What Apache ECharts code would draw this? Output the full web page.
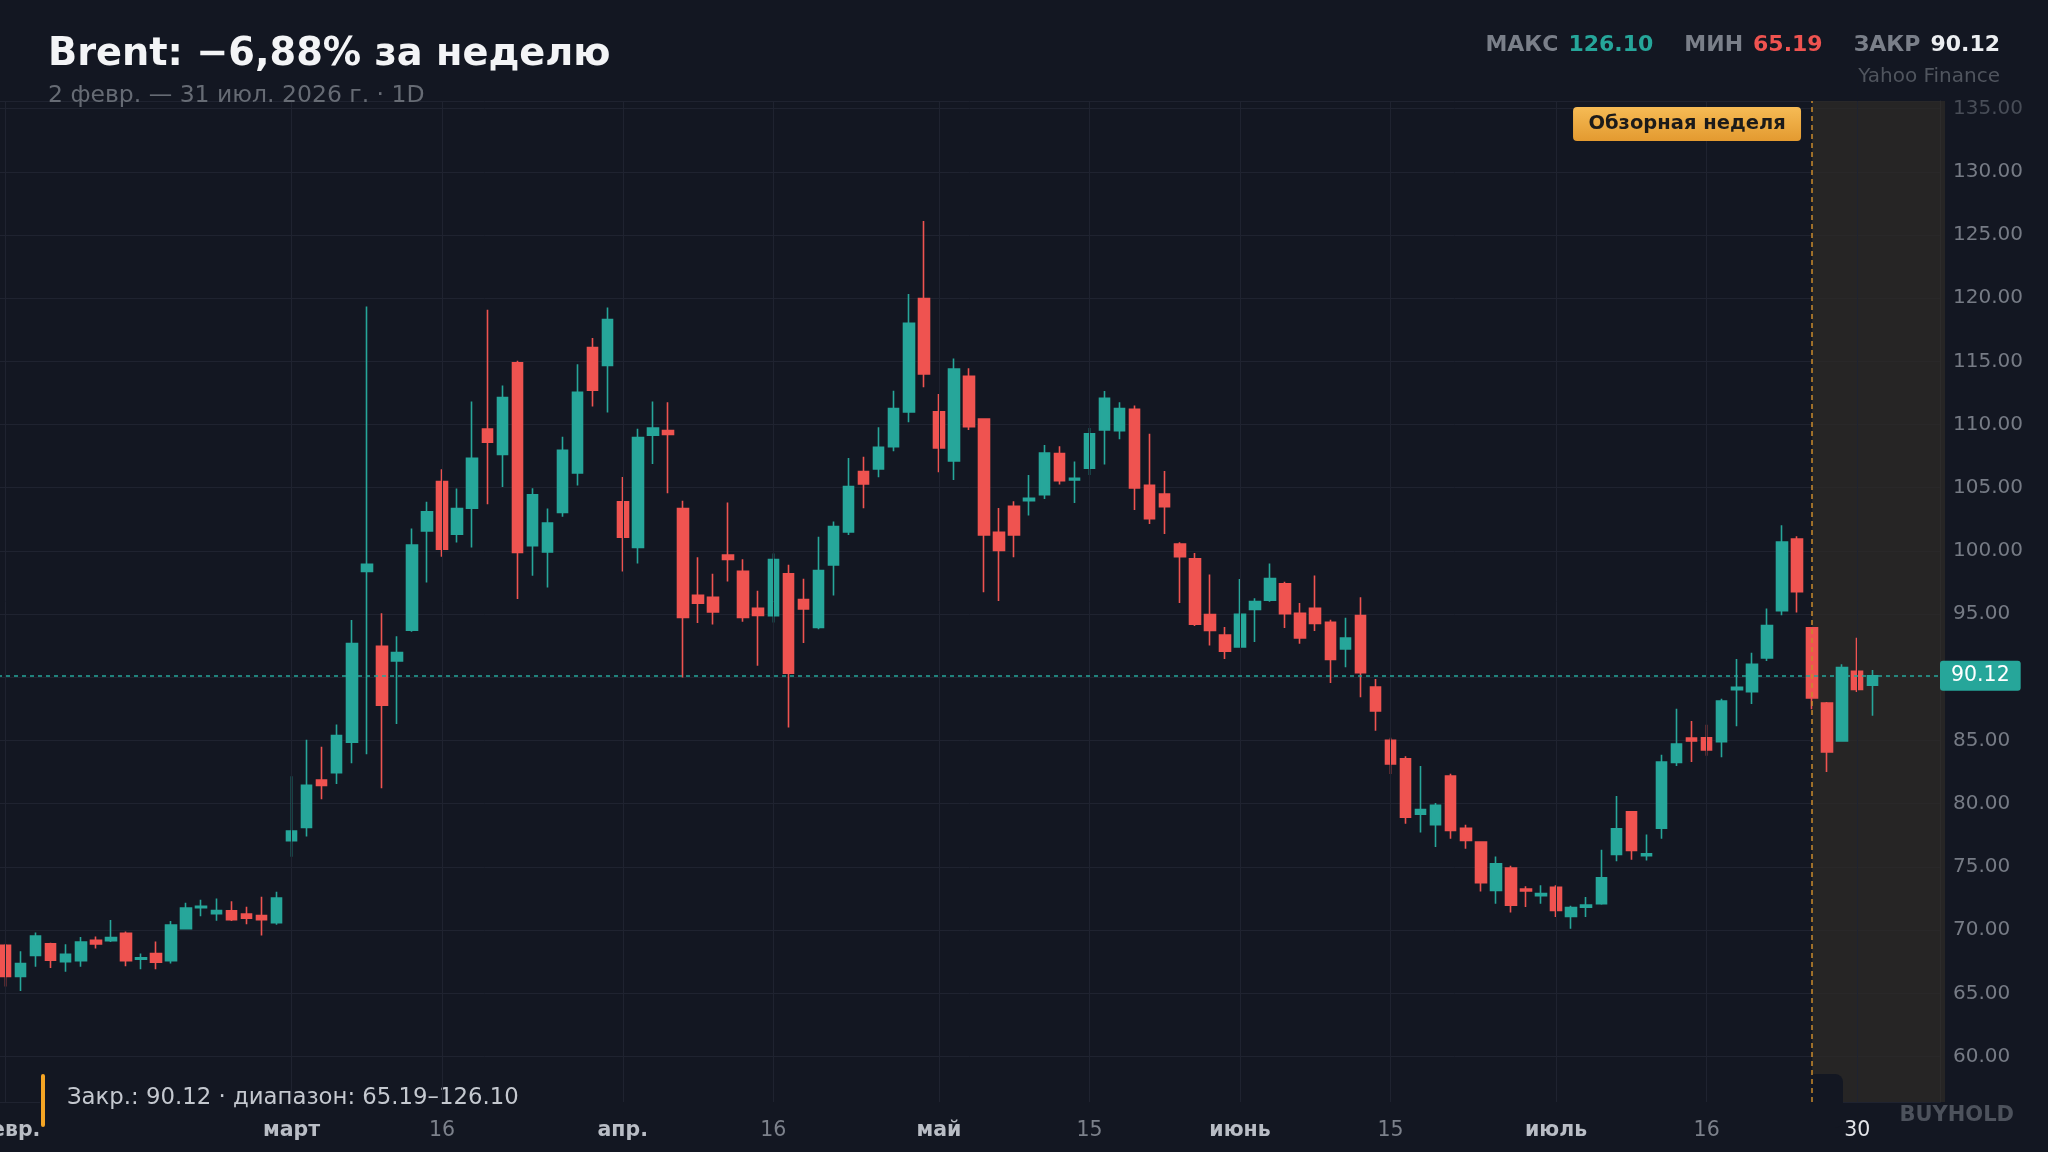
<!DOCTYPE html>
<html>
<head>
<meta charset="utf-8">
<script src="https://cdn.jsdelivr.net/npm/echarts@6/dist/echarts.min.js"></script>
<style>
html,body{margin:0;padding:0;background:#131722;}
#c{width:2048px;height:1152px;}
</style>
</head>
<body>
<div id="c"></div>
<script>
// Trading days (2026), per month
const febDays = [2,3,4,5,6,9,10,11,12,13,17,18,19,20,23,24,25,26,27];
const marDays = [2,3,4,5,6,9,10,11,12,13,16,17,18,19,20,23,24,25,26,27,30,31];
const aprDays = [1,2,6,7,8,9,10,13,14,15,16,17,20,21,22,23,24,27,28,29,30];
const mayDays = [1,4,5,6,7,8,11,12,13,14,15,18,19,20,21,22,26,27,28,29];
const junDays = [1,2,3,4,5,8,9,10,11,12,15,16,17,18,22,23,24,25,26,29,30];
const julDays = [1,2,6,7,8,9,10,13,14,15,16,17,20,21,22,23,24,27,28,29,30,31];
const padCategories = ['', '', '', ''];

// OHLC values (USD/bbl)
const opens = [68.8,66.34,68.0,68.91,67.5,67.57,69.2,69.17,69.75,67.7,68.15,67.57,70.11,71.78,71.3,71.52,71.27,71.16,70.58,
77.07,78.12,81.88,82.46,84.86,98.37,92.46,91.3,93.73,101.59,105.5,101.33,103.39,109.64,107.63,114.88,100.41,99.93,103.04,106.18,116.1,114.67,
103.89,100.27,109.16,109.53,103.36,96.5,96.34,99.67,98.38,95.47,94.87,98.19,96.16,93.95,98.89,101.5,106.28,106.49,108.25,111.0,119.96,
111.0,107.12,113.82,110.44,101.48,103.53,103.98,104.46,107.7,105.62,106.54,109.57,109.52,111.21,105.2,104.51,100.55,99.37,94.96,93.35,
92.4,95.38,96.1,97.41,95.07,95.46,94.35,92.24,94.88,89.23,85.01,83.56,79.18,78.34,82.19,78.05,76.97,73.14,74.91,73.25,72.72,
73.38,71.08,71.82,72.08,75.99,79.37,75.88,78.07,83.27,85.2,85.22,84.91,89.02,88.87,91.53,95.28,100.95,93.91,87.97,84.96,90.47,89.37];
const closes = [66.34,67.36,69.53,67.61,68.08,69.06,68.9,69.42,67.57,67.8,67.46,70.4,71.74,71.88,71.55,70.83,70.94,70.83,72.54,
77.83,81.45,81.45,85.4,92.68,98.95,87.79,91.96,100.47,103.1,100.14,103.36,107.34,108.61,112.14,99.88,104.44,102.2,107.97,112.56,112.72,118.31,
101.09,108.98,109.72,109.21,94.74,95.87,95.18,99.32,94.74,94.9,99.32,90.33,95.42,98.45,101.93,105.1,105.3,108.2,111.26,118.01,114.0,
108.15,114.4,109.84,101.27,100.03,101.27,104.17,107.75,105.56,105.75,109.26,112.08,111.26,104.98,102.56,103.51,99.55,94.2,93.7,92.06,
94.99,95.99,97.81,95.04,93.11,94.27,91.42,93.11,90.37,87.34,83.14,78.94,79.53,79.87,77.89,77.1,73.75,75.25,71.98,73.09,72.9,
71.56,71.79,71.98,74.14,78.02,76.31,76.04,83.3,84.72,84.96,84.25,88.13,89.21,91.03,94.09,100.71,96.78,88.36,84.09,90.77,89.05,90.12];
const lows = [65.54,65.19,67.1,67.0,66.7,67.1,68.55,69.05,67.14,66.9,66.9,67.35,70.1,71.1,70.75,70.72,70.47,69.57,70.43,
75.8,77.4,80.36,81.56,83.2,83.91,81.23,86.3,93.6,97.5,99.54,100.67,100.27,103.7,105.05,96.19,98.03,97.11,102.7,105.18,111.43,110.95,
98.38,99.0,106.87,104.57,89.99,94.29,94.18,97.58,94.39,90.91,94.34,86.03,92.71,93.81,96.47,101.27,103.38,105.83,107.88,110.18,112.95,
106.22,105.62,109.57,96.73,96.04,99.5,102.8,104.11,105.25,103.8,106.01,106.83,108.83,103.24,102.14,101.35,95.89,94.07,92.51,91.45,
92.35,92.8,95.99,93.9,92.66,93.67,89.55,90.79,88.42,85.78,82.35,78.42,77.73,76.57,77.23,76.44,73.06,72.08,71.4,71.82,72.08,
71.03,70.11,71.03,72.0,75.44,75.57,75.51,77.23,82.98,83.3,83.8,83.67,86.12,87.89,91.29,94.91,95.12,87.47,82.51,84.96,88.84,86.97];
const highs = [68.9,68.33,69.82,69.0,68.88,69.46,69.5,70.8,69.9,68.15,69.1,70.73,72.17,72.4,72.5,72.28,71.85,72.64,73.04,
82.17,85.07,84.5,86.27,94.53,119.35,95.07,93.26,101.78,103.89,106.47,104.94,111.82,119.08,113.09,115.04,104.97,103.36,109.03,114.78,116.84,119.26,
105.86,109.66,111.82,111.77,103.97,99.51,98.19,103.83,99.35,96.85,99.8,98.9,97.8,101.12,102.32,107.36,107.46,109.78,112.68,120.33,126.1,
112.42,115.22,114.45,110.5,103.4,103.93,106.01,108.39,108.28,107.07,109.73,112.66,111.76,111.5,109.28,106.33,100.69,99.84,98.13,93.98,
97.78,96.25,99.0,97.57,95.88,98.05,94.56,94.72,96.33,89.87,85.22,83.75,82.98,80.05,82.37,78.34,76.97,75.83,75.09,73.48,73.54,
73.54,71.93,72.61,76.36,80.61,79.37,77.57,83.88,87.52,86.54,86.25,88.31,91.45,91.95,95.44,102.03,101.16,93.91,88.05,91.03,93.14,90.58];

// X-axis tick labels
const tickDates = ['2026-02-02','2026-03-02','2026-03-16','2026-04-01','2026-04-16','2026-05-01','2026-05-15','2026-06-01','2026-06-15','2026-07-01','2026-07-16','2026-07-30'];
const tickTexts = ['февр.','март','16','апр.','16','май','15','июнь','15','июль','16','30'];
const tickKinds = ['m','m','d','m','d','m','d','m','d','m','d','h'];

const reviewWeekStart = '2026-07-27';
const prevWeekClose = '2026-07-24';

// build categories
const monthList = [['02',febDays],['03',marDays],['04',aprDays],['05',mayDays],['06',junDays],['07',julDays]];
const categories = [];
monthList.forEach(([m, days]) => days.forEach(d => categories.push('2026-' + m + '-' + String(d).padStart(2,'0'))));
const axisCategories = categories.concat(padCategories);

const candleData = opens.map((o, i) => [o, closes[i], lows[i], highs[i]]);

const maxHigh = Math.max(...highs);
const minLow = Math.min(...lows);
const lastClose = closes[closes.length - 1];
const prevClose = closes[categories.indexOf(prevWeekClose)];
const weekChange = (lastClose / prevClose - 1) * 100;
const weekChangeText = (weekChange < 0 ? '\u2212' : '+') + Math.abs(weekChange).toFixed(2).replace('.', ',');

const FONT = '"DejaVu Sans", sans-serif';
const UP = '#26a69a', DOWN = '#ef5350', BG = '#131722', GRIDC = '#1f2330';
const Y_MIN = 56.4, Y_MAX = 135.6;
const GRID_RIGHT = 108;

const chart = echarts.init(document.getElementById('c'), null, {renderer: 'canvas'});

chart.setOption({
  backgroundColor: BG,
  animation: false,
  textStyle: {fontFamily: FONT},
  grid: {left: -2, right: GRID_RIGHT, top: 101, bottom: 50, containLabel: false, outerBoundsMode: 'none'},
  xAxis: {
    type: 'category',
    data: axisCategories,
    boundaryGap: true,
    z: 3,
    axisLine: {show: false},
    axisTick: {show: false},
    splitLine: {show: false},
    axisLabel: {
      interval: (idx, val) => tickDates.indexOf(val) >= 0,
      margin: 18,
      formatter: (val) => {
        const i = tickDates.indexOf(val);
        return i < 0 ? '' : '{' + tickKinds[i] + '|' + tickTexts[i] + '}';
      },
      rich: {
        m: {fontSize: 20.5, fontWeight: 'bold', color: '#b9bdc5', fontFamily: FONT},
        d: {fontSize: 20.5, color: '#7c818b', fontFamily: FONT},
        h: {fontSize: 20.5, color: '#e3e5e9', fontFamily: FONT}
      }
    }
  },
  yAxis: {
    type: 'value',
    position: 'right',
    min: Y_MIN,
    max: Y_MAX,
    splitNumber: 16,
    minInterval: 5,
    maxInterval: 5,
    scale: true,
    axisLine: {show: true, lineStyle: {color: '#2c3039', width: 1}},
    axisTick: {show: false},
    splitLine: {show: true, lineStyle: {color: GRIDC, width: 1}},
    axisLabel: {
      showMinLabel: false, showMaxLabel: false,
      margin: 13, fontSize: 20, fontFamily: FONT,
      color: v => (v >= 135 ? '#484d57' : '#767b85'),
      formatter: v => v.toFixed(2)
    }
  },
  series: [
    {
      type: 'line',
      data: [],
      z: 0.5,
      silent: true,
      markLine: {
        silent: true,
        symbol: ['none', 'none'],
        label: {show: false},
        lineStyle: {color: GRIDC, width: 1, type: 'solid'},
        data: tickDates.map(d => ({xAxis: d}))
      }
    },
    {
      type: 'candlestick',
      data: candleData,
      barWidth: 11,
      z: 2,
      itemStyle: {
        color: UP, color0: DOWN, borderColor: UP, borderColor0: DOWN, borderWidth: 1.6
      },
      markLine: {
        silent: true,
        symbol: ['none', 'none'],
        animation: false,
        data: [
          {
            yAxis: lastClose,
            lineStyle: {color: UP, width: 1.5, type: [4, 4]},
            label: {
              show: true, position: 'end', distance: 0,
              formatter: lastClose.toFixed(2),
              backgroundColor: UP, color: '#ffffff', fontSize: 20.5, fontFamily: FONT,
              padding: [5, 11, 4, 11], borderRadius: 3
            }
          },
          {
            xAxis: reviewWeekStart,
            lineStyle: {color: '#c98a2c', width: 1.5, type: [5, 4]},
            label: {show: false}
          }
        ]
      }
    }
  ]
});

// overlay graphics positioned from the library's scales
const xWeek = chart.convertToPixel({xAxisIndex: 0}, reviewWeekStart);
const yTop = chart.convertToPixel({yAxisIndex: 0}, Y_MAX);
const yBot = chart.convertToPixel({yAxisIndex: 0}, Y_MIN);
const gridRight = 2048 - GRID_RIGHT;

chart.setOption({
  graphic: [
    {
      type: 'rect', z: 0.8, silent: true,
      shape: {x: xWeek, y: yTop, width: gridRight + 5 - xWeek, height: yBot - yTop},
      style: {fill: 'rgba(46,43,39,0.72)'}
    },
    {
      type: 'rect', z: 1, silent: true,
      shape: {x: 40, y: 1074, width: 1803, height: 54, r: 8},
      style: {fill: BG}
    },
    {
      type: 'rect', z: 1.1, silent: true,
      shape: {x: 41, y: 1074, width: 4, height: 53, r: 2},
      style: {fill: '#f5a524'}
    },
    {
      type: 'text', z: 1.2, silent: true,
      style: {
        x: 67, y: 1098, text: 'Закр.: ' + lastClose.toFixed(2) + ' · диапазон: ' + minLow.toFixed(2) + '–' + maxHigh.toFixed(2),
        fill: '#c4c8cf', font: '22.8px ' + FONT, verticalAlign: 'middle', align: 'left'
      }
    },
    {
      type: 'group', z: 5, silent: true,
      children: [
        {
          type: 'rect', z: 5,
          shape: {x: xWeek - 11 - 228, y: 107, width: 228, height: 34, r: 4},
          style: {
            fill: new echarts.graphic.LinearGradient(0, 0, 0, 1, [
              {offset: 0, color: '#f6bb55'}, {offset: 1, color: '#e39a30'}
            ])
          }
        },
        {
          type: 'text', z: 6,
          style: {
            x: xWeek - 11 - 114, y: 124, text: 'Обзорная неделя',
            fill: '#1c1b1a', font: 'bold 19.5px ' + FONT, align: 'center', verticalAlign: 'middle'
          }
        }
      ]
    },
    {
      type: 'text', z: 5, silent: true,
      style: {
        x: 48, y: 55.5, text: 'Brent: ' + weekChangeText + '% за неделю',
        fill: '#f3f4f6', font: 'bold 38.3px ' + FONT, align: 'left', verticalAlign: 'middle'
      }
    },
    {
      type: 'text', z: 5, silent: true,
      style: {
        x: 48, y: 96, text: '2 февр. — 31 июл. 2026 г. · 1D',
        fill: '#666b74', font: '23.5px ' + FONT, align: 'left', verticalAlign: 'middle'
      }
    },
    {
      type: 'text', z: 5, silent: true,
      style: {
        x: 2000, y: 45, align: 'right', verticalAlign: 'middle',
        text: '{l|МАКС}{g|' + maxHigh.toFixed(2) + '}{l|МИН}{r|' + minLow.toFixed(2) + '}{l|ЗАКР}{w|' + lastClose.toFixed(2) + '}',
        rich: {
          l: {fill: '#7a7f89', font: 'bold 22px ' + FONT, padding: [0, 10, 0, 0]},
          g: {fill: UP, font: 'bold 22px ' + FONT, padding: [0, 31, 0, 0]},
          r: {fill: DOWN, font: 'bold 22px ' + FONT, padding: [0, 31, 0, 0]},
          w: {fill: '#eceef1', font: 'bold 22px ' + FONT}
        }
      }
    },
    {
      type: 'text', z: 5, silent: true,
      style: {
        x: 2000, y: 77, text: 'Yahoo Finance', fill: '#50555e',
        font: '20px ' + FONT, align: 'right', verticalAlign: 'middle'
      }
    },
    {
      type: 'text', z: 5, silent: true,
      style: {
        x: 2014, y: 1116, text: 'BUYHOLD', fill: '#4d525c',
        font: 'bold 21px ' + FONT, align: 'right', verticalAlign: 'middle'
      }
    }
  ]
});
</script>
</body>
</html>
